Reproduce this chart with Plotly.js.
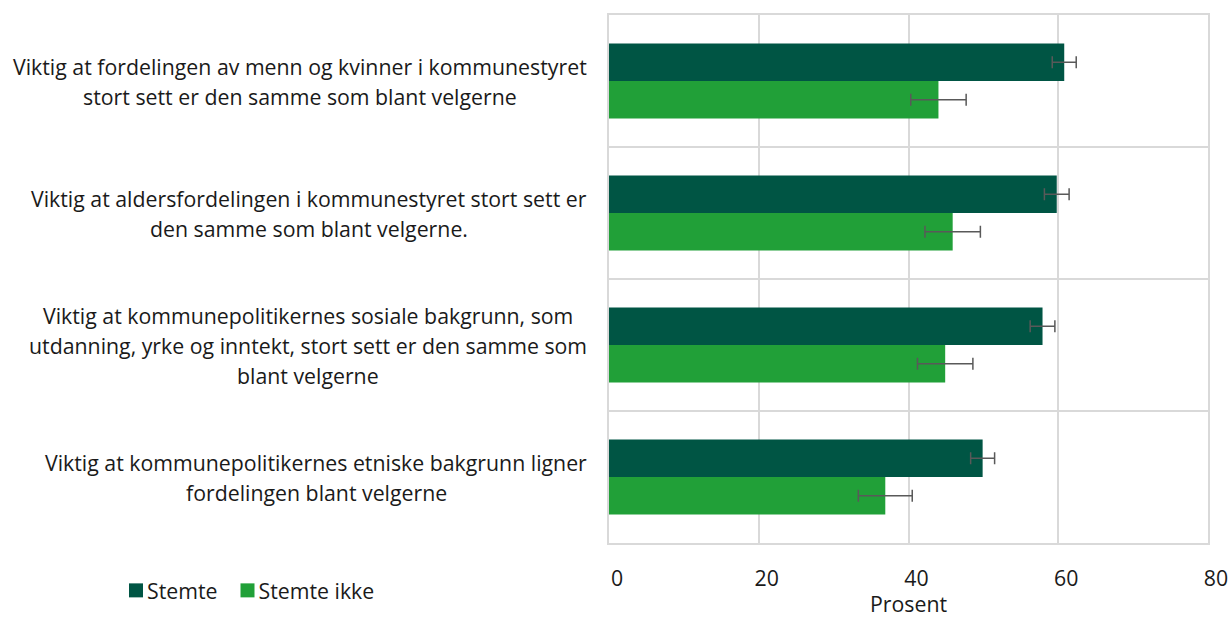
<!DOCTYPE html>
<html>
<head>
<meta charset="utf-8">
<script src="https://cdn.plot.ly/plotly-3.0.1.min.js"></script>
<style>
  body { margin: 0; background: #fff; }
  #chart { width: 1231px; height: 619px; }
</style>
</head>
<body>
<div id="chart"></div>
<script>
// spørsmål (linjeskift som i originalen)
var categories = [
  "Viktig at fordelingen av menn og kvinner i kommunestyret<br>stort sett er den samme som blant velgerne",
  "Viktig at aldersfordelingen i kommunestyret stort sett er<br>den samme som blant velgerne.",
  "Viktig at kommunepolitikernes sosiale bakgrunn, som<br>utdanning, yrke og inntekt, stort sett er den samme som<br>blant velgerne",
  "Viktig at kommunepolitikernes etniske bakgrunn ligner<br>fordelingen blant velgerne"
];

var stemte = [60.8, 59.8, 57.9, 49.9];
var stemteErr = [1.6, 1.65, 1.65, 1.6];
var stemteIkke = [44.0, 45.9, 44.9, 36.9];
var stemteIkkeErr = [3.7, 3.7, 3.7, 3.6];

var xTicks = [0, 20, 40, 60, 80];
var xTitle = "Prosent";

var textCol = "#1a1a1a";
var gridCol = "#d9d9d9";
var fontFam = '"Open Sans", "Noto Sans", sans-serif';
var fs = 21.3;

var W = 1231, H = 619;
var mL = 609, mR = 23, mT = 15, mB = 76;
var plotW = W - mL - mR;
var plotH = H - mT - mB;

var data = [
  {
    type: "bar", orientation: "h", name: "Stemte",
    x: stemte, y: categories,
    marker: {color: "#005544"},
    error_x: {type: "data", array: stemteErr, visible: true, color: "#595959", thickness: 1.5, width: 6},
    hoverinfo: "x"
  },
  {
    type: "bar", orientation: "h", name: "Stemte ikke",
    x: stemteIkke, y: categories,
    marker: {color: "#21a038"},
    error_x: {type: "data", array: stemteIkkeErr, visible: true, color: "#595959", thickness: 1.5, width: 6},
    hoverinfo: "x"
  }
];

// kategoritekst: sentrerte linjer, høyrejustert blokk
var ctx = document.createElement("canvas").getContext("2d");
ctx.font = fs + "px 'Open Sans'";
var annotations = [];
var lineStep = 30;
var rightPx = 587;
categories.forEach(function(cat) {
  var lines = cat.split("<br>");
  var maxW = 0;
  lines.forEach(function(l) { maxW = Math.max(maxW, ctx.measureText(l).width); });
  var cx = rightPx - maxW / 2;
  lines.forEach(function(l, j) {
    annotations.push({
      xref: "paper", yref: "y",
      x: (cx - mL) / plotW, y: cat,
      xanchor: "center", yanchor: "middle",
      yshift: ((lines.length - 1) / 2 - j) * lineStep,
      text: l, showarrow: false,
      font: {size: fs, color: textCol, family: fontFam}
    });
  });
});

// aksetittel helt nederst
annotations.push({
  xref: "paper", yref: "paper",
  x: 0.5, y: -mB / plotH,
  xanchor: "center", yanchor: "bottom",
  borderpad: 0,
  text: xTitle, showarrow: false,
  font: {size: fs, color: textCol, family: fontFam}
});

var layout = {
  width: W, height: H,
  margin: {l: mL, r: mR, t: mT, b: mB, autoexpand: false},
  paper_bgcolor: "#fff", plot_bgcolor: "#fff",
  font: {family: fontFam, size: fs, color: textCol},
  barmode: "group",
  bargap: 0.43,
  bargroupgap: 0,
  showlegend: true,
  legend: {
    orientation: "h",
    x: (116 - mL) / plotW, xanchor: "left",
    y: -0.09, yanchor: "middle",
    font: {size: fs, color: textCol},
    itemsizing: "constant"
  },
  xaxis: {
    range: [0, 80],
    tickvals: xTicks,
    ticks: "",
    automargin: false,
    showgrid: true, gridcolor: gridCol, gridwidth: 2,
    zeroline: false,
    showline: true, linecolor: gridCol, linewidth: 2, mirror: true,
    ticklabelshift: 8,
    ticklabelstandoff: 15,
    tickfont: {size: fs, color: textCol},
    fixedrange: true
  },
  yaxis: {
    type: "category",
    autorange: "reversed",
    showticklabels: false,
    ticks: "",
    tickson: "boundaries",
    automargin: false,
    showgrid: true, gridcolor: gridCol, gridwidth: 2,
    showline: true, linecolor: gridCol, linewidth: 2, mirror: true,
    fixedrange: true
  },
  annotations: annotations
};

Plotly.newPlot("chart", data, layout, {displayModeBar: false, staticPlot: true}).then(function(gd) {
  // større fargeruter og tettere tekst i forklaringen
  gd.querySelectorAll(".legend .legendpoints path").forEach(function(p) {
    p.setAttribute("d", "M7,7H-7V-7H7Z");
  });
  gd.querySelectorAll(".legend .legendtext").forEach(function(t) {
    t.setAttribute("x", parseFloat(t.getAttribute("x")) - 9);
  });
  var groups = gd.querySelectorAll(".legend .traces");
  if (groups.length > 1) {
    var tr = groups[1].getAttribute("transform") || "";
    var m = tr.match(/translate\(([-\d.]+),\s*([-\d.]+)\)/);
    if (m) groups[1].setAttribute("transform", "translate(" + (parseFloat(m[1]) - 4) + "," + m[2] + ")");
  }
});
</script>
</body>
</html>
